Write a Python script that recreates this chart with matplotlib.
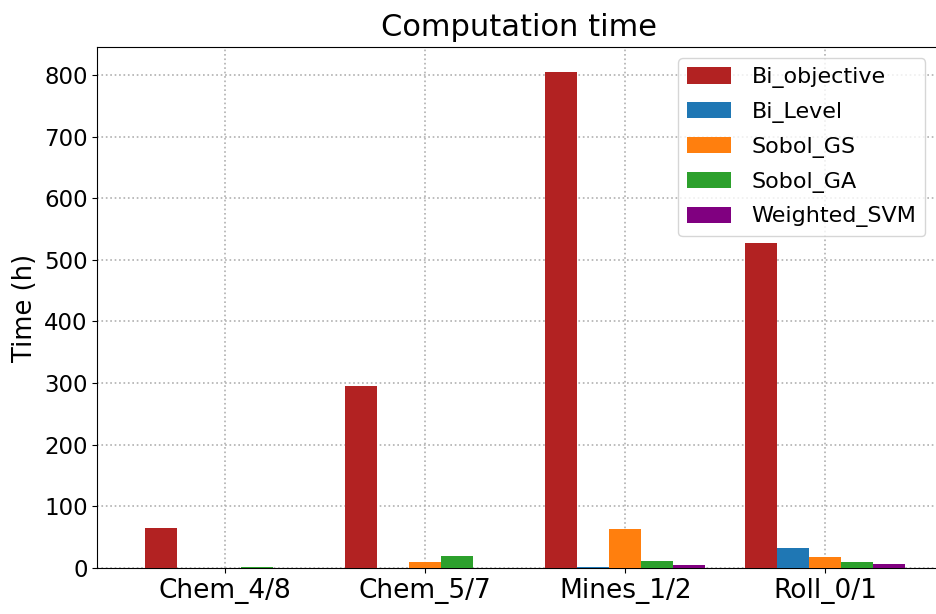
import matplotlib
matplotlib.use('Agg')
import matplotlib.pyplot as plt
import numpy as np

# Data
datasets = ['Chem_4/8', 'Chem_5/7', 'Mines_1/2', 'Roll_0/1']
bi_objective = [65, 295, 805, 528]
bi_level = [0.3, 0.3, 1, 33]
sobol_gs = [0.5, 9, 63, 17]
sobol_ga = [2, 19, 11, 9]
weighted_svm = [0.5, 0.5, 4, 6.5]

series = [('Bi_objective', bi_objective, '#b22222'),
          ('Bi_Level', bi_level, '#1f77b4'),
          ('Sobol_GS', sobol_gs, '#ff7f0e'),
          ('Sobol_GA', sobol_ga, '#2ca02c'),
          ('Weighted_SVM', weighted_svm, '#800080')]

fig = plt.figure(figsize=(9.36, 6.14), dpi=100)
ax = fig.add_axes([0.104, 0.075, 0.9, 0.848])

x = np.arange(len(datasets))
width = 0.16
for i, (name, vals, color) in enumerate(series):
    ax.bar(x + (i - 2) * width, vals, width, label=name, color=color, zorder=3)

ax.set_xticks(x)
ax.set_xticklabels(datasets, fontsize=19)
ax.tick_params(axis='y', labelsize=16.5)
ax.set_ylabel('Time (h)', fontsize=18.5)
ax.set_title('Computation time', fontsize=22, pad=8)
ax.set_ylim(0, 845)
ax.set_xlim(-0.64, 3.572)
ax.grid(True, linestyle=':', color='#b0b0b0', linewidth=1.2, zorder=0)
ax.legend(loc='upper right', fontsize=16, handlelength=2.0, handleheight=0.75,
          labelspacing=0.62, handletextpad=0.9,
          bbox_to_anchor=(0.996, 1.0))

fig.savefig('out.png', dpi=100)
